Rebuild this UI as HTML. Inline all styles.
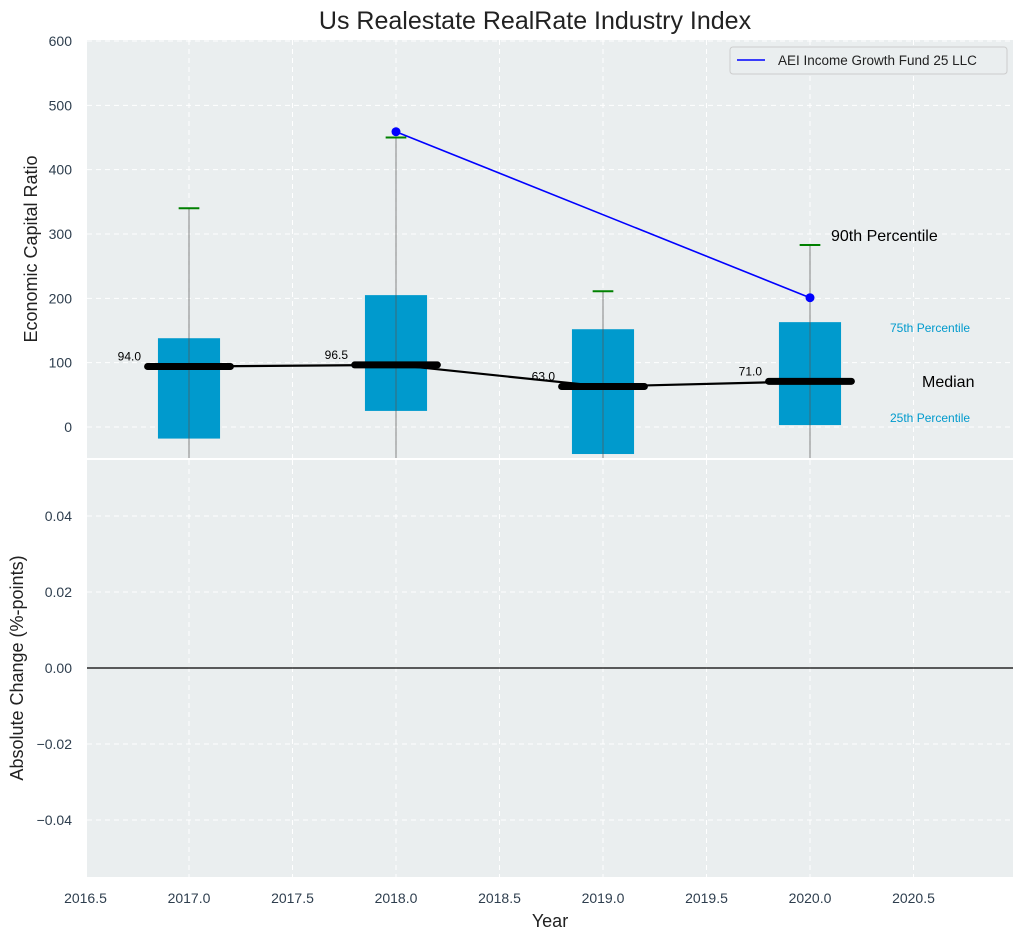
<!DOCTYPE html>
<html><head><meta charset="utf-8"><style>
body{margin:0;background:#fff;}
svg{font-family:"Liberation Sans","DejaVu Sans",sans-serif;}
</style></head><body>
<svg id="c" width="1025" height="940" xmlns="http://www.w3.org/2000/svg"></svg>
<script>
const years=[2017,2018,2019,2020];
const q1=[-18,25,-42,3];
const q3=[138,205,152,163];
const whiskerTop=[340,450,211,283];
const medians=[94.0,96.5,63.0,71.0];
const fundYears=[2018,2020];
const fundVals=[459,201];
const xTicks=[2016.5,2017.0,2017.5,2018.0,2018.5,2019.0,2019.5,2020.0,2020.5];
const yTicksTop=[0,100,200,300,400,500,600];
const yTicksBot=[-0.04,-0.02,0,0.02,0.04];

const NS="http://www.w3.org/2000/svg";
const svg=document.getElementById('c');
function el(t,a,p){const e=document.createElementNS(NS,t);for(const k in a)e.setAttribute(k,a[k]);(p||svg).appendChild(e);return e;}
const L=87,R=1013,T1=40,B1=458,T2=460,B2=877;
const x=v=>189+(v-2017)*207;
const y1=v=>427-v*0.6433;
const y2=v=>668-v*3800;

let e;
e=el('rect',{x:L,y:T1,width:R-L,height:B1-T1,fill:'#eaeeef'});

e=el('rect',{x:L,y:T2,width:R-L,height:B2-T2,fill:'#eaeeef'});

xTicks.forEach(t=>{
 [[T1,B1],[T2,B2]].forEach(r=>{e=el('line',{x1:x(t),x2:x(t),y1:r[0],y2:r[1],stroke:'#fff','stroke-dasharray':'5,4','stroke-width':1});
 });
 e=el('text',{x:x(t),y:903,'text-anchor':'middle','font-size':14,fill:'#2e3e4e'});e.textContent=t.toFixed(1);
 
});
yTicksTop.forEach(t=>{
 e=el('line',{x1:L,x2:R,y1:y1(t),y2:y1(t),stroke:'#fff','stroke-dasharray':'5,4'});
 
 e=el('text',{x:72,y:y1(t)+5,'text-anchor':'end','font-size':14,fill:'#2e3e4e'});e.textContent=t;
 
});
yTicksBot.forEach(t=>{
 e=el('line',{x1:L,x2:R,y1:y2(t),y2:y2(t),stroke:'#fff','stroke-dasharray':'5,4'});
 
 e=el('text',{x:72,y:y2(t)+5,'text-anchor':'end','font-size':14,fill:'#2e3e4e'});e.textContent=(t<0?'\u2212':'')+Math.abs(t).toFixed(2);
 
});
e=el('line',{x1:L,x2:R,y1:y2(0),y2:y2(0),stroke:'#000','stroke-width':1.2});

const clip=el('clipPath',{id:'cp'});el('rect',{x:L,y:T1,width:R-L,height:B1-T1},clip);
const g=el('g',{'clip-path':'url(#cp)'});
years.forEach((yr,i)=>{
 e=el('rect',{x:x(yr-0.15),y:y1(q3[i]),width:x(yr+0.15)-x(yr-0.15),height:y1(q1[i])-y1(q3[i]),fill:'#009acd'},g);
 
 e=el('line',{x1:x(yr),x2:x(yr),y1:y1(whiskerTop[i]),y2:B1+5,stroke:'#555','stroke-width':1,opacity:0.7},g);
 
 e=el('line',{x1:x(yr-0.05),x2:x(yr+0.05),y1:y1(whiskerTop[i]),y2:y1(whiskerTop[i]),stroke:'#008000','stroke-width':2},g);
 
});
let pts=years.map((yr,i)=>x(yr)+','+y1(medians[i])).join(' ');
e=el('polyline',{points:pts,fill:'none',stroke:'#000','stroke-width':2.2},g);

years.forEach((yr,i)=>{
 e=el('line',{x1:x(yr-0.2),x2:x(yr+0.2),y1:y1(medians[i]),y2:y1(medians[i]),stroke:'#000','stroke-width':7,'stroke-linecap':'round'},g);
 
 e=el('text',{x:x(yr)-48,y:y1(medians[i])-6,'text-anchor':'end','font-size':12,fill:'#000'});e.textContent=medians[i].toFixed(1);
 
});
pts=fundYears.map((yr,i)=>x(yr)+','+y1(fundVals[i])).join(' ');
e=el('polyline',{points:pts,fill:'none',stroke:'#0000ff','stroke-width':1.6},g);

fundYears.forEach((yr,i)=>{e=el('circle',{cx:x(yr),cy:y1(fundVals[i]),r:4.5,fill:'#0000ff'},g);
 });
const ann=[[831,241,'90th Percentile',16,'#000'],[890,332,'75th Percentile',12,'#009acd'],[922,387,'Median',16,'#000'],[890,422,'25th Percentile',12,'#009acd']];
ann.forEach(a=>{e=el('text',{x:a[0],y:a[1],'font-size':a[3],fill:a[4]});e.textContent=a[2];
 });
const lg=el('g',{});
el('rect',{x:730,y:47,width:277,height:27,fill:'#eaeeef',stroke:'#ccc',rx:3},lg);
el('line',{x1:737,x2:765,y1:60,y2:60,stroke:'#0000ff','stroke-width':1.6},lg);
e=el('text',{x:778,y:65,'font-size':13.5,fill:'#222'},lg);e.textContent='AEI Income Growth Fund 25 LLC';
e=el('text',{x:535,y:29,'text-anchor':'middle','font-size':25,fill:'#222'});e.textContent='Us Realestate RealRate Industry Index';

e=el('text',{x:550,y:927,'text-anchor':'middle','font-size':18,fill:'#222'});e.textContent='Year';

e=el('text',{transform:'translate(37,249) rotate(-90)','text-anchor':'middle','font-size':18,fill:'#222'});e.textContent='Economic Capital Ratio';

e=el('text',{transform:'translate(23,668) rotate(-90)','text-anchor':'middle','font-size':18,fill:'#222'});e.textContent='Absolute Change (%-points)';

</script>
</body></html>
